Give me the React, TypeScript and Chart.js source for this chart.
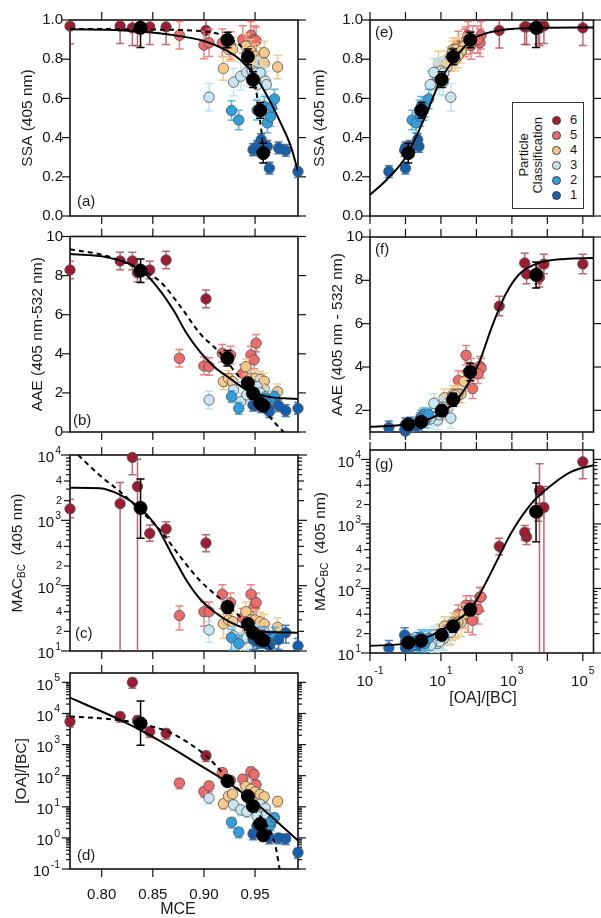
import React, { useEffect, useRef } from "react";
import { Chart, registerables } from "chart.js";

Chart.register(...registerables);

const FONT = "'Liberation Sans', Arial, Helvetica, sans-serif";
Chart.defaults.font.family = FONT;
Chart.defaults.font.size = 15;
Chart.defaults.color = "#111";

// ---------------- data: one entry per sample ----------------
const sampleClass = [
  6, 6, 6, 6, 6, 6, 6,
  5, 5, 5, 5, 5, 5, 5, 5, 5,
  4, 4, 4, 4, 4, 4, 4, 4, 4, 4, 4, 4,
  3, 3, 3, 3, 3, 3, 3, 3, 3, 3,
  2, 2, 2, 2, 2, 2, 2, 2,
  1, 1, 1, 1, 1, 1, 1, 1,
];
const mce = [
  0.769, 0.818, 0.83, 0.835, 0.847, 0.863, 0.902,
  0.876, 0.9, 0.905, 0.918, 0.926, 0.938, 0.946, 0.949, 0.951,
  0.919, 0.924, 0.928, 0.941, 0.944, 0.946, 0.95, 0.955, 0.959, 0.959, 0.972, 0.948,
  0.905, 0.929, 0.936, 0.942, 0.947, 0.952, 0.955, 0.96, 0.961, 0.952,
  0.927, 0.934, 0.952, 0.959, 0.962, 0.965, 0.966, 0.969,
  0.948, 0.952, 0.956, 0.962, 0.964, 0.973, 0.98, 0.992,
];
const oaBc = [
  5500, 8000, 100000, 6000, 2600, 2300, 440,
  58, 31, 47, 126, 70, 78, 135, 110, 51,
  12.5, 22, 26, 45, 18, 37, 30, 25, 21, 8.5, 15, 14,
  19, 11.5, 8, 7, 10, 6.3, 12, 9, 5.5, 5,
  3.2, 1.55, 2.5, 2.8, 2.0, 2.6, 3.5, 4.5,
  1.35, 2.4, 2.2, 1.3, 1.0, 1.0, 0.95, 0.34,
];
const ssa = [
  0.969, 0.97, 0.96, 0.958, 0.965, 0.965, 0.947,
  0.922, 0.872, 0.884, 0.884, 0.87, 0.901, 0.922, 0.9, 0.895,
  0.753, 0.85, 0.85, 0.867, 0.8, 0.84, 0.816, 0.8, 0.833, 0.78, 0.76, 0.78,
  0.606, 0.683, 0.713, 0.733, 0.74, 0.733, 0.73, 0.688, 0.67, 0.67,
  0.538, 0.49, 0.54, 0.56, 0.475, 0.508, 0.555, 0.597,
  0.338, 0.355, 0.39, 0.355, 0.244, 0.347, 0.335, 0.227,
];
const aae = [
  8.29, 8.75, 8.75, 8.14, 8.29, 8.8, 6.81,
  3.77, 3.38, 3.35, 4.03, 3.94, 3.0, 3.94, 3.69, 4.54,
  2.58, 2.75, 2.58, 3.34, 2.4, 2.75, 2.75, 2.7, 2.6, 2.2, 2.06, 2.3,
  1.64, 2.15, 1.55, 1.9, 2.1, 2.32, 2.0, 1.8, 1.7, 1.6,
  1.81, 1.21, 1.5, 1.7, 1.3, 1.6, 1.5, 1.8,
  1.38, 1.4, 1.3, 1.25, 1.04, 1.35, 1.09, 1.21,
];
const macBc = [
  1500, 1800, 9200, 3300, 630, 740, 450,
  35, 40, 40, 74, 55, 32, 74, 47, 55,
  26, 30, 28, 40, 22, 30, 30, 28, 26, 20, 23, 22,
  21, 17, 14, 16, 18, 19, 17, 15, 14, 13,
  16, 13, 15, 17, 13, 15, 14, 17,
  15, 14, 16, 14, 12, 15, 19, 12,
];
// class-6 MAC error limits (in order of the class-6 samples)
const macLoClass6 = [1100, 1, 5000, 1, 480, 560, 330];
const macHiClass6 = [2100, 3800, 20000, 8600, 850, 950, 600];

// error magnitudes by class (index 0 = class 1)
const ssaErrByClass = [0.03, 0.05, 0.07, 0.06, 0.07, 0.09];
const aaeErrByClass = [0.3, 0.3, 0.45, 0.4, 0.45, 0.45];
const macErrFracByClass = [0.3, 0.35, 0.35, 0.4, 0.4, 0.3];
const oaBcErrFrac = 0.35;

// class means (index 0 = class 1)
const meanMce = [0.958, 0.955, 0.948, 0.943, 0.923, 0.838];
const meanOaBc = [1.2, 2.8, 10.5, 22, 67, 4800];
const meanSsa = [0.321, 0.539, 0.696, 0.812, 0.898, 0.96];
const meanAae = [1.35, 1.47, 1.98, 2.49, 3.77, 8.25];
const meanMac = [14.5, 15.5, 19, 26, 47, 1550];
const meanSsaErr = [0.05, 0.04, 0.04, 0.04, 0.04, 0.1];
const meanAaeErr = [0.2, 0.2, 0.25, 0.3, 0.4, 0.6];
const meanMacLo = [12, 13, 16, 21, 38, 530];
const meanMacHi = [17, 18, 22, 31, 57, 4300];
const meanOaBcLo = [0.85, 2.0, 7.5, 16, 48, 950];
const meanOaBcHi = [1.6, 3.6, 14, 29, 90, 25000];

// fit curves
const fitSsaMceSolidX = [0.769, 0.818, 0.864, 0.9, 0.922, 0.936, 0.949, 0.962, 0.975, 0.985, 0.992];
const fitSsaMceSolidY = [0.953, 0.948, 0.927, 0.893, 0.845, 0.795, 0.722, 0.611, 0.475, 0.355, 0.227];
const fitSsaMceDashX = [0.769, 0.84, 0.9, 0.912, 0.922, 0.936, 0.944, 0.948, 0.952, 0.954, 0.9565, 0.958];
const fitSsaMceDashY = [0.955, 0.952, 0.942, 0.932, 0.91, 0.867, 0.81, 0.71, 0.61, 0.52, 0.42, 0.32];

const fitAaeMceSolidX = [0.769, 0.805, 0.838, 0.854, 0.87, 0.883, 0.896, 0.91, 0.923, 0.942, 0.962, 0.992];
const fitAaeMceSolidY = [9.1, 8.94, 8.29, 7.44, 6.25, 5.05, 4.11, 3.34, 2.83, 2.15, 1.81, 1.69];
const fitAaeMceDashX = [0.769, 0.805, 0.838, 0.857, 0.877, 0.896, 0.916, 0.929, 0.942, 0.955, 0.967, 0.978];
const fitAaeMceDashY = [9.35, 9.0, 8.3, 7.7, 6.42, 5.05, 4.03, 3.17, 2.32, 1.47, 0.61, 0.0];

const fitMacMceSolidX = [0.769, 0.798, 0.818, 0.838, 0.854, 0.87, 0.883, 0.896, 0.91, 0.926, 0.942, 0.962, 0.992];
const fitMacMceSolidY = [3160, 3090, 2450, 1510, 790, 275, 120, 63, 40, 27.5, 21.9, 19.5, 19.1];
const fitMacMceDashX = [0.777, 0.798, 0.818, 0.838, 0.857, 0.877, 0.896, 0.916, 0.936, 0.952, 0.965, 0.968];
const fitMacMceDashY = [10000, 4900, 2750, 1410, 708, 275, 120, 63, 33, 21, 11, 10];

const fitOaMceSolidX = [0.769, 0.818, 0.847, 0.8955, 0.922, 0.9485, 0.992];
const fitOaMceSolidY = [32000, 6200, 2000, 224, 65, 15, 0.83];
const fitOaMceDashX = [0.769, 0.798, 0.831, 0.865, 0.883, 0.903, 0.922, 0.936, 0.9485, 0.962, 0.97, 0.974];
const fitOaMceDashY = [8000, 7000, 5200, 2600, 1240, 410, 90, 30, 9, 2.3, 0.54, 0.1];

const fitSsaOaX = [0.1, 0.29, 1.05, 3.0, 10, 26, 76, 275, 1250, 10000, 200000];
const fitSsaOaY = [0.108, 0.184, 0.304, 0.475, 0.696, 0.81, 0.9, 0.94, 0.956, 0.96, 0.962];
const fitAaeOaX = [0.1, 1.05, 5.8, 21, 50, 118, 276, 660, 1560, 5600, 31000, 200000];
const fitAaeOaY = [1.24, 1.35, 1.66, 2.27, 3.04, 4.19, 5.88, 7.34, 8.26, 8.8, 8.99, 9.03];
const fitMacOaX = [0.1, 1.05, 5.8, 21, 76, 180, 430, 1000, 3600, 13000, 48000, 200000];
const fitMacOaY = [12.9, 14.1, 19.1, 28.8, 51.3, 120, 309, 759, 2089, 3981, 6457, 8128];

// tick values
const mceTicks = [0.8, 0.85, 0.9, 0.95];
const ssaTicks = [0, 0.2, 0.4, 0.6, 0.8, 1.0];
const aaeTicksB = [0, 2, 4, 6, 8, 10];
const aaeTicksF = [2, 4, 6, 8, 10];
const macTicks = [10, 20, 40, 100, 200, 400, 1000, 2000, 4000, 10000];
const oaDecades = [0.1, 1, 10, 100, 1000, 10000, 100000];

const classColors = ["#1560ae", "#2f9fdf", "#c9e5f1", "#f6c98a", "#ee6b6b", "#9d1c32"];
const errColors = [
  "rgba(30,100,180,0.85)",
  "rgba(60,170,230,0.85)",
  "rgba(190,225,240,0.95)",
  "rgba(242,196,130,0.9)",
  "rgba(236,110,110,0.85)",
  "rgba(170,50,70,0.75)",
];

// ---------------- helpers ----------------
const isPow10 = (v: number) => Math.abs(Math.log10(v) - Math.round(Math.log10(v))) < 1e-6;
const minorsFor = (min: number, max: number, skip: number[] = []) => {
  const out: number[] = [];
  for (let e = Math.floor(Math.log10(min)); e <= Math.ceil(Math.log10(max)); e++) {
    for (let m = 2; m <= 9; m++) {
      if (skip.includes(m)) continue;
      const v = m * Math.pow(10, e);
      if (v > min * 1.0001 && v < max * 0.9999) out.push(v);
    }
  }
  return out;
};

type AxisSpec = {
  type: "linear" | "logarithmic";
  min: number;
  max: number;
  ticks: number[];
  minor?: number[];
  label?: (v: number) => string; // plain labels drawn by Chart.js
  pow?: (v: number) => boolean; // labels drawn as 10^n
  small?: (v: number) => string; // small mantissa labels (log axes)
  padding?: number;
  tickLen?: (v: number) => number;
};
type Seg = { t: string; size?: number; dy?: number };
type Kind = "ssa" | "aae" | "mac" | "oa";
type PanelSpec = {
  cx: number; cy: number; cw: number; ch: number;
  l: number; t: number; r: number; b: number;
  x: AxisSpec; y: AxisSpec;
  xVals: number[]; yVals: number[]; kind: Kind;
  meanX: number[]; meanY: number[];
  solid: [number[], number[]];
  dashed?: [number[], number[]];
  letter: string; letterAt: [number, number];
  yTitle: Seg[]; yTitleX: number;
  xTitle?: { text: string; x: number; y: number };
};

const mceAxis = (labels: boolean): AxisSpec => ({
  type: "linear", min: 0.769, max: 0.992, ticks: mceTicks,
  label: labels ? (v) => v.toFixed(2) : undefined, padding: 17,
});
const oaXAxis = (labels: boolean): AxisSpec => ({
  type: "logarithmic", min: 0.1, max: 200000, ticks: oaDecades,
  pow: labels ? (v) => Math.round(Math.log10(v)) % 2 !== 0 : undefined,
});
const ssaAxis: AxisSpec = { type: "linear", min: 0, max: 1, ticks: ssaTicks, label: (v) => v.toFixed(1), padding: 7 };
const macAxis = (max: number): AxisSpec => ({
  type: "logarithmic", min: 10, max, ticks: macTicks.filter((v) => v <= max * 1.0001),
  minor: minorsFor(10, max, [2, 4]),
  pow: (v) => isPow10(v),
  small: (v) => (isPow10(v) ? "" : String(Math.round(v / Math.pow(10, Math.floor(Math.log10(v) + 1e-9))))),
  tickLen: (v) => (isPow10(v) ? 9 : 6),
  padding: 9,
});

function sampleErr(kind: Kind, i: number): [number, number] {
  const c = sampleClass[i];
  if (kind === "ssa") return [ssa[i] - ssaErrByClass[c - 1], ssa[i] + ssaErrByClass[c - 1]];
  if (kind === "aae") return [aae[i] - aaeErrByClass[c - 1], aae[i] + aaeErrByClass[c - 1]];
  if (kind === "mac") {
    if (c === 6) {
      let j = 0;
      for (let k = 0; k < i; k++) if (sampleClass[k] === 6) j++;
      return [macLoClass6[j], macHiClass6[j]];
    }
    const f = macErrFracByClass[c - 1];
    return [macBc[i] * (1 - f), macBc[i] * (1 + f)];
  }
  return [oaBc[i] * (1 - oaBcErrFrac), oaBc[i] * (1 + oaBcErrFrac)];
}
function meanErr(kind: Kind, k: number): [number, number] {
  if (kind === "ssa") return [meanSsa[k] - meanSsaErr[k], meanSsa[k] + meanSsaErr[k]];
  if (kind === "aae") return [meanAae[k] - meanAaeErr[k], meanAae[k] + meanAaeErr[k]];
  if (kind === "mac") return [meanMacLo[k], meanMacHi[k]];
  return [meanOaBcLo[k], meanOaBcHi[k]];
}

function drawRich(ctx: CanvasRenderingContext2D, segs: Seg[], cx: number, cy: number, vertical: boolean) {
  ctx.save();
  ctx.translate(cx, cy);
  if (vertical) ctx.rotate(-Math.PI / 2);
  ctx.textBaseline = "middle";
  ctx.textAlign = "left";
  let total = 0;
  const widths = segs.map((s) => {
    ctx.font = `${s.size ?? 15.5}px ${FONT}`;
    const w = ctx.measureText(s.t).width;
    total += w;
    return w;
  });
  let x = -total / 2;
  segs.forEach((s, i) => {
    ctx.font = `${s.size ?? 15.5}px ${FONT}`;
    ctx.fillText(s.t, x, s.dy ?? 0);
    x += widths[i];
  });
  ctx.restore();
}

// "10" with a raised exponent
function drawPow(ctx: CanvasRenderingContext2D, v: number, x: number, y: number, align: "right" | "center", expDy: number, baseDy: number) {
  const e = String(Math.round(Math.log10(v)));
  ctx.font = `15px ${FONT}`;
  const w1 = ctx.measureText("10").width;
  ctx.font = `10.5px ${FONT}`;
  const w2 = ctx.measureText(e).width;
  const total = w1 + 1 + w2;
  const x0 = align === "right" ? x - total : x - total / 2;
  ctx.textAlign = "left";
  ctx.textBaseline = "middle";
  ctx.font = `15px ${FONT}`;
  ctx.fillText("10", x0, y + baseDy);
  ctx.font = `10.5px ${FONT}`;
  ctx.fillText(e, x0 + w1 + 1, y + expDy);
}

const errorBarPlugin = {
  id: "errorBars",
  beforeDatasetDraw(chart: any, args: any) {
    const ds = chart.data.datasets[args.index];
    if (!ds.errLo) return;
    const { ctx, chartArea: a } = chart;
    const xs = chart.scales.x;
    const ys = chart.scales.y;
    ctx.save();
    ctx.beginPath();
    ctx.rect(a.left, a.top, a.right - a.left, a.bottom - a.top);
    ctx.clip();
    ctx.strokeStyle = ds.errColor;
    ctx.lineWidth = 1.5;
    ds.data.forEach((p: any, i: number) => {
      const x = xs.getPixelForValue(p.x);
      const yLo = ys.getPixelForValue(ds.errLo[i]);
      const yHi = ys.getPixelForValue(ds.errHi[i]);
      ctx.beginPath();
      ctx.moveTo(x, yLo);
      ctx.lineTo(x, yHi);
      ctx.moveTo(x - 4, yLo);
      ctx.lineTo(x + 4, yLo);
      ctx.moveTo(x - 4, yHi);
      ctx.lineTo(x + 4, yHi);
      ctx.stroke();
    });
    ctx.restore();
  },
};

function framePlugin(spec: PanelSpec) {
  return {
    id: "frameTicks",
    beforeDatasetsDraw(chart: any) {
      const { ctx, chartArea: a } = chart;
      const xs = chart.scales.x;
      const ys = chart.scales.y;
      ctx.save();
      ctx.strokeStyle = "#111";
      ctx.lineWidth = 1.2;
      const line = (x1: number, y1: number, x2: number, y2: number) => {
        ctx.beginPath();
        ctx.moveTo(x1, y1);
        ctx.lineTo(x2, y2);
        ctx.stroke();
      };
      const xT: [number, number][] = [
        ...spec.x.ticks.map((v) => [v, spec.x.tickLen ? spec.x.tickLen(v) : 8] as [number, number]),
        ...(spec.x.minor ?? []).map((v) => [v, 4] as [number, number]),
      ];
      for (const [v, len] of xT) {
        const px = xs.getPixelForValue(v);
        line(px, a.bottom, px, a.bottom + len);
        line(px, a.top, px, a.top - len);
      }
      const yT: [number, number][] = [
        ...spec.y.ticks.map((v) => [v, spec.y.tickLen ? spec.y.tickLen(v) : 8] as [number, number]),
        ...(spec.y.minor ?? []).map((v) => [v, 4] as [number, number]),
      ];
      for (const [v, len] of yT) {
        const py = ys.getPixelForValue(v);
        line(a.left, py, a.left - len, py);
        line(a.right, py, a.right + len, py);
      }
      ctx.lineWidth = 1.6;
      ctx.strokeRect(a.left, a.top, a.right - a.left, a.bottom - a.top);
      ctx.restore();
    },
  };
}

function textPlugin(spec: PanelSpec) {
  return {
    id: "panelTexts",
    afterDraw(chart: any) {
      const { ctx, chartArea: a } = chart;
      const xs = chart.scales.x;
      const ys = chart.scales.y;
      ctx.save();
      ctx.fillStyle = "#111";
      // log-axis tick labels: 10^n and small mantissas
      if (spec.y.pow) {
        for (const v of spec.y.ticks) {
          const py = ys.getPixelForValue(v);
          if (spec.y.pow(v)) drawPow(ctx, v, a.left - (spec.y.padding ?? 9), py, "right", -4, 3);
          else if (spec.y.small) {
            const s = spec.y.small(v);
            if (s) {
              ctx.font = `11px ${FONT}`;
              ctx.textAlign = "right";
              ctx.textBaseline = "middle";
              ctx.fillText(s, a.left - 8, py);
            }
          }
        }
      }
      if (spec.x.pow) {
        for (const v of spec.x.ticks) {
          if (!spec.x.pow(v)) continue;
          const px = xs.getPixelForValue(v);
          drawPow(ctx, v, px, a.bottom + 24, "center", -6, 4.5);
        }
      }
      ctx.fillStyle = "#1a1a1a";
      ctx.font = `15px ${FONT}`;
      ctx.textAlign = "left";
      ctx.textBaseline = "middle";
      ctx.fillText(spec.letter, spec.letterAt[0] - spec.cx, spec.letterAt[1] - spec.cy);
      drawRich(ctx, spec.yTitle, spec.yTitleX - spec.cx, (a.top + a.bottom) / 2, true);
      if (spec.xTitle) drawRich(ctx, [{ t: spec.xTitle.text, size: 16 }], spec.xTitle.x - spec.cx, spec.xTitle.y - spec.cy, false);
      ctx.restore();
    },
  };
}

function scaleOpts(ax: AxisSpec, isX: boolean, size: number) {
  return {
    type: ax.type,
    min: ax.min,
    max: ax.max,
    position: isX ? "bottom" : "left",
    bounds: "data",
    grid: { display: false, drawTicks: false, drawOnChartArea: false },
    border: { display: false },
    title: { display: false },
    ticks: {
      display: !!ax.label,
      autoSkip: false,
      maxRotation: 0,
      minRotation: 0,
      padding: ax.padding ?? 8,
      color: "#111",
      font: { family: FONT, size: 15 },
      callback: (v: any) => (ax.label ? ax.label(Number(v)) : ""),
    },
    afterBuildTicks: (s: any) => {
      s.ticks = ax.ticks.map((v) => ({ value: v }));
    },
    afterFit: (s: any) => {
      if (isX) s.height = size;
      else s.width = size;
      s.paddingLeft = 0;
      s.paddingRight = 0;
      s.paddingTop = 0;
      s.paddingBottom = 0;
    },
  };
}

function buildConfig(spec: PanelSpec): any {
  const datasets: any[] = [];
  for (const c of [6, 5, 4, 3, 2, 1]) {
    const idx = sampleClass.map((k, i) => (k === c ? i : -1)).filter((i) => i >= 0);
    const errs = idx.map((i) => sampleErr(spec.kind, i));
    datasets.push({
      label: `Class ${c}`,
      data: idx.map((i) => ({ x: spec.xVals[i], y: spec.yVals[i] })),
      errLo: errs.map((e) => e[0]),
      errHi: errs.map((e) => e[1]),
      errColor: errColors[c - 1],
      pointRadius: 5.2,
      pointHoverRadius: 5.2,
      pointBackgroundColor: classColors[c - 1],
      pointBorderColor: "#505050",
      pointBorderWidth: 0.8,
      clip: false,
      order: 10 + c,
    });
  }
  const lineDs = (xs: number[], ys: number[], dash: number[]) => ({
    label: "fit",
    data: xs.map((x, i) => ({ x, y: ys[i] })),
    showLine: true,
    borderColor: "#000",
    borderWidth: 2,
    borderDash: dash,
    pointRadius: 0,
    pointHoverRadius: 0,
    cubicInterpolationMode: "monotone",
    order: 5,
  });
  datasets.push(lineDs(spec.solid[0], spec.solid[1], []));
  if (spec.dashed) datasets.push(lineDs(spec.dashed[0], spec.dashed[1], [5, 4]));
  const mErr = [0, 1, 2, 3, 4, 5].map((k) => meanErr(spec.kind, k));
  datasets.push({
    label: "Mean",
    data: spec.meanX.map((x, k) => ({ x, y: spec.meanY[k] })),
    errLo: mErr.map((e) => e[0]),
    errHi: mErr.map((e) => e[1]),
    errColor: "#000",
    pointRadius: 6.5,
    pointHoverRadius: 6.5,
    pointBackgroundColor: "#000",
    pointBorderColor: "#000",
    pointBorderWidth: 1,
    clip: false,
    order: 1,
  });
  return {
    type: "scatter",
    data: { datasets },
    options: {
      responsive: false,
      animation: false,
      devicePixelRatio: 1,
      events: [],
      layout: { padding: { top: spec.t - spec.cy, right: spec.cx + spec.cw - spec.r, left: 0, bottom: 0 } },
      plugins: { legend: { display: false }, tooltip: { enabled: false } },
      scales: {
        x: scaleOpts(spec.x, true, spec.cy + spec.ch - spec.b),
        y: scaleOpts(spec.y, false, spec.l - spec.cx),
      },
    },
    plugins: [errorBarPlugin, framePlugin(spec), textPlugin(spec)],
  };
}

const macTitle: Seg[] = [{ t: "MAC" }, { t: "BC", size: 10, dy: 4 }, { t: "  (405 nm)" }];

const panels: PanelSpec[] = [
  {
    cx: 0, cy: 0, cw: 310, ch: 226, l: 70, t: 20, r: 298, b: 216,
    x: mceAxis(false), y: ssaAxis, xVals: mce, yVals: ssa, kind: "ssa",
    meanX: meanMce, meanY: meanSsa,
    solid: [fitSsaMceSolidX, fitSsaMceSolidY], dashed: [fitSsaMceDashX, fitSsaMceDashY],
    letter: "(a)", letterAt: [77, 202], yTitle: [{ t: "SSA (405 nm)" }], yTitleX: 28,
  },
  {
    cx: 0, cy: 226, cw: 310, ch: 216, l: 70, t: 236.5, r: 298, b: 432,
    x: mceAxis(false), y: { type: "linear", min: 0, max: 10, ticks: aaeTicksB, label: (v) => String(v), padding: 7 },
    xVals: mce, yVals: aae, kind: "aae", meanX: meanMce, meanY: meanAae,
    solid: [fitAaeMceSolidX, fitAaeMceSolidY], dashed: [fitAaeMceDashX, fitAaeMceDashY],
    letter: "(b)", letterAt: [73, 421], yTitle: [{ t: "AAE (405 nm-532 nm)" }], yTitleX: 38,
  },
  {
    cx: 0, cy: 442, cw: 310, ch: 219, l: 70, t: 455, r: 298, b: 651,
    x: mceAxis(false), y: macAxis(10000), xVals: mce, yVals: macBc, kind: "mac",
    meanX: meanMce, meanY: meanMac,
    solid: [fitMacMceSolidX, fitMacMceSolidY], dashed: [fitMacMceDashX, fitMacMceDashY],
    letter: "(c)", letterAt: [75, 634], yTitle: macTitle, yTitleX: 18,
  },
  {
    cx: 0, cy: 661, cw: 310, ch: 257, l: 70, t: 673, r: 298, b: 869,
    x: mceAxis(true),
    y: {
      type: "logarithmic", min: 0.1, max: 200000, ticks: oaDecades,
      minor: minorsFor(0.1, 200000), pow: () => true, padding: 10,
    },
    xVals: mce, yVals: oaBc, kind: "oa", meanX: meanMce, meanY: meanOaBc,
    solid: [fitOaMceSolidX, fitOaMceSolidY], dashed: [fitOaMceDashX, fitOaMceDashY],
    letter: "(d)", letterAt: [77, 856], yTitle: [{ t: "[OA]/[BC]" }], yTitleX: 22,
    xTitle: { text: "MCE", x: 178, y: 910 },
  },
  {
    cx: 300, cy: 0, cw: 301, ch: 226, l: 370, t: 20, r: 596, b: 216,
    x: oaXAxis(false), y: ssaAxis, xVals: oaBc, yVals: ssa, kind: "ssa",
    meanX: meanOaBc, meanY: meanSsa, solid: [fitSsaOaX, fitSsaOaY],
    letter: "(e)", letterAt: [375, 33], yTitle: [{ t: "SSA (405 nm)" }], yTitleX: 320,
  },
  {
    cx: 300, cy: 226, cw: 301, ch: 216, l: 370, t: 237, r: 596, b: 432,
    x: oaXAxis(false), y: { type: "linear", min: 1, max: 10, ticks: aaeTicksF, label: (v) => String(v), padding: 7 },
    xVals: oaBc, yVals: aae, kind: "aae", meanX: meanOaBc, meanY: meanAae,
    solid: [fitAaeOaX, fitAaeOaY],
    letter: "(f)", letterAt: [375, 250], yTitle: [{ t: "AAE (405 nm - 532 nm)" }], yTitleX: 338,
  },
  {
    cx: 300, cy: 442, cw: 301, ch: 276, l: 370, t: 450, r: 596, b: 653,
    x: oaXAxis(true), y: macAxis(14000), xVals: oaBc, yVals: macBc, kind: "mac",
    meanX: meanOaBc, meanY: meanMac, solid: [fitMacOaX, fitMacOaY],
    letter: "(g)", letterAt: [375, 465], yTitle: macTitle, yTitleX: 321,
    xTitle: { text: "[OA]/[BC]", x: 483, y: 699 },
  },
];

function Panel({ spec }: { spec: PanelSpec }) {
  const ref = useRef<HTMLCanvasElement>(null);
  useEffect(() => {
    const chart = new Chart(ref.current as HTMLCanvasElement, buildConfig(spec));
    return () => chart.destroy();
  }, [spec]);
  return (
    <canvas
      ref={ref}
      width={spec.cw}
      height={spec.ch}
      style={{ position: "absolute", left: spec.cx, top: spec.cy, width: spec.cw, height: spec.ch }}
    />
  );
}

const legendClasses = [6, 5, 4, 3, 2, 1];

function Legend() {
  return (
    <div
      style={{
        position: "absolute", left: 512, top: 102, width: 72, height: 107,
        border: "1px solid #333", background: "#fff", boxSizing: "border-box", fontFamily: FONT, color: "#1a1a1a",
      }}
    >
      <div style={{ position: "absolute", left: 3, top: 0, width: 28, height: 105, display: "flex", alignItems: "center", justifyContent: "center" }}>
        <div style={{ writingMode: "vertical-rl", transform: "rotate(180deg)", fontSize: 13, lineHeight: "13.5px", textAlign: "center", whiteSpace: "nowrap" }}>
          Particle<br />Classification
        </div>
      </div>
      {legendClasses.map((c, k) => (
        <React.Fragment key={c}>
          <div
            style={{
              position: "absolute", left: 39, top: 12.5 + 15 * k, width: 9, height: 9, borderRadius: "50%",
              background: classColors[c - 1], border: "0.8px solid #444", boxSizing: "border-box",
            }}
          />
          <div style={{ position: "absolute", left: 57, top: 9 + 15 * k, fontSize: 13, lineHeight: "15px" }}>{c}</div>
        </React.Fragment>
      ))}
    </div>
  );
}

export default function App() {
  return (
    <div style={{ position: "absolute", left: 0, top: 0, width: 601, height: 918, background: "#fff", overflow: "hidden" }}>
      {panels.map((p, i) => (
        <Panel key={i} spec={p} />
      ))}
      <Legend />
    </div>
  );
}
